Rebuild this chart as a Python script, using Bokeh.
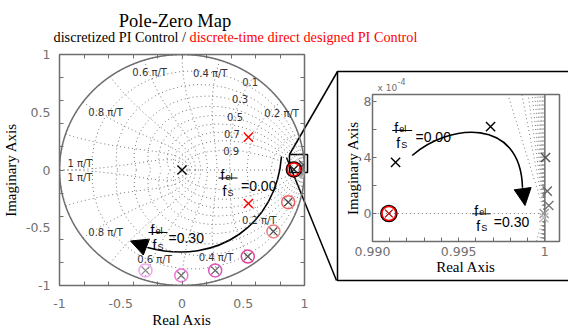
import numpy as np
from bokeh.plotting import figure
from bokeh.models import Range1d, LinearAxis, FixedTicker, Arrow, NormalHead, GridBox
from bokeh.embed import file_html
from bokeh.resources import INLINE
from bokeh.core.properties import value

W, H = 568, 335

# ------------------------------------------------------------------ data
# main pole-zero map
pole0_x = [0.0]
pole0_y = [0.0]
red_pole_x = [0.542, 0.542]
red_pole_y = [0.285, -0.290]
fel_fs = [0.00, 0.05, 0.10, 0.15, 0.20, 0.25, 0.30]
pz_x = [0.913, 0.867, 0.746, 0.537, 0.271, -0.006, -0.298]
pz_y = [0.005, -0.279, -0.532, -0.749, -0.870, -0.913, -0.870]
zero_colors = ["#ff0000", "#f06262", "#f08484", "#e2449e", "#dc58bc", "#f078d8", "#f0a6f0"]
pole_colors = ["#202020", "#404040", "#505050", "#505050", "#606060", "#707070", "#8a8a8a"]
near1_x = [0.990, 0.992, 0.994, 0.996, 0.998]
near1_y = [0.045, 0.020, 0.000, -0.020, -0.035]
near1_colors = ["#505050", "#666666", "#7a7a7a", "#909090", "#aaaaaa"]

main_ticks = [-1, -0.5, 0, 0.5, 1]
main_tick_labels = ["-1", "-0.5", "0", "0.5", "1"]
main_minor = [-1, -0.8, -0.6, -0.4, -0.2, 0, 0.2, 0.4, 0.6, 0.8, 1]

wn_labels = ["0.2 π/T", "0.4 π/T", "0.6 π/T", "0.8 π/T", "1 π/T",
             "1 π/T", "0.8 π/T", "0.6 π/T", "0.4 π/T", "0.2 π/T"]
wn_label_x = [0.813, 0.230, -0.264, -0.624, -0.833, -0.833, -0.624, -0.224, 0.278, 0.630]
wn_label_y = [0.492, 0.833, 0.842, 0.500, 0.059, -0.068, -0.539, -0.778, -0.760, -0.437]
zeta_labels = ["0.1", "0.3", "0.5", "0.7", "0.9"]
zeta_label_x = [0.556, 0.474, 0.433, 0.407, 0.401]
zeta_label_y = [0.760, 0.616, 0.463, 0.313, 0.163]

# inset (zoom near z = 1)
in_pole_x = [0.99134, 0.99685]
in_pole_y = [3.65e-4, 6.2e-4]
in_gray_x = [1.00004, 1.00014, 1.00023, 0.99996, 0.99994]
in_gray_y = [4.0e-4, 1.6e-4, 0.57e-4, 0.0, -0.3e-4]
in_gray_colors = ["#555555", "#666666", "#777777", "#999999", "#bbbbbb"]
in_zero_x = [0.99095]
in_zero_y = [0.0]
in_xticks = [0.990, 0.995, 1.0]
in_xtick_labels = ["0.990", "0.995", "1"]
in_xminor = [0.990, 0.991, 0.992, 0.993, 0.994, 0.995, 0.996, 0.997, 0.998, 0.999, 1.0]
in_yticks = [0.0, 4e-4, 8e-4]
in_ytick_labels = ["0", "4", "8"]
in_yminor = [-2e-4, 0.0, 2e-4, 4e-4, 6e-4, 8e-4]

GRAY = "#6e6e6e"
SERIF = "Liberation Serif"
SANS = "DejaVu Sans"

# ------------------------------------------------------------------ zgrid geometry
grid_xs, grid_ys = [], []
theta = np.linspace(0, np.pi, 21)
for zeta in np.arange(0.0, 0.95, 0.1):
    m = zeta / np.sqrt(1 - zeta * zeta)
    r = np.exp(-m * theta)
    grid_xs += [r * np.cos(theta), r * np.cos(theta)]
    grid_ys += [r * np.sin(theta), -r * np.sin(theta)]
phi = np.linspace(np.pi / 2, np.pi, 41)
for k in range(1, 11):
    wn = k * np.pi / 10
    zz = np.exp(wn * np.exp(1j * phi))
    grid_xs += [zz.real, zz.real]
    grid_ys += [zz.imag, -zz.imag]
grid_xs.append(np.array([0.0, 1.0]))
grid_ys.append(np.array([0.0, 0.0]))
circ_t = np.linspace(0, 2 * np.pi, 4001)
circ_x, circ_y = np.cos(circ_t), np.sin(circ_t)


def style_axis(ax, standoff, label_standoff, tick_px="12.5px"):
    ax.axis_line_color = None
    ax.major_tick_in = 0
    ax.major_tick_out = 0
    ax.minor_tick_in = 4
    ax.minor_tick_out = 0
    ax.minor_tick_line_color = GRAY
    ax.minor_tick_line_width = 1
    ax.major_label_text_font = SANS
    ax.major_label_text_font_size = tick_px
    ax.major_label_text_color = "#707070"
    ax.major_label_standoff = standoff
    ax.axis_label_text_font = SERIF
    ax.axis_label_text_font_size = "15px"
    ax.axis_label_text_font_style = "normal"
    ax.axis_label_text_color = "black"
    ax.axis_label_standoff = label_standoff


def draw_grid(p):
    p.multi_line(grid_xs, grid_ys, line_color="#777777", line_width=1, line_dash="1 3")
    p.line(circ_x, circ_y, line_color=GRAY, line_width=1.5)


# ------------------------------------------------------------------ decoration canvas (pixel units)
deco = figure(width=W, height=H, x_range=Range1d(0, W), y_range=Range1d(H, 0),
              toolbar_location=None, output_backend="svg",
              x_axis_location=None, y_axis_location=None, min_border=0)
deco.grid.visible = False
deco.outline_line_color = None

deco.text(x=[174.5], y=[20.5], text=["Pole-Zero Map"], text_align="center",
          text_baseline="alphabetic", text_font=value(SERIF), text_font_size="18.5px", text_color="black")
deco.text(x=[53], y=[36.5], text=["discretized PI Control / "], text_align="left",
          text_baseline="alphabetic", text_font=value(SERIF), text_font_size="14.25px", text_color="black")
deco.text(x=[189], y=[36.5], text=["discrete-time direct designed PI Control"], text_align="left",
          text_baseline="alphabetic", text_font=value(SERIF), text_font_size="14.25px", text_color="#ff0000")

# zoom rectangle, connectors and inset frame
deco.quad(left=[289], right=[307], top=[154], bottom=[172], fill_color=None, line_color="black", line_width=1.5)
deco.segment(x0=[289, 286], y0=[154, 157], x1=[337, 336], y1=[71, 280], line_color="black", line_width=1.5)
deco.quad(left=[337], right=[620], top=[71], bottom=[280], fill_color=None, line_color="black", line_width=1.5)

# curved arrows
deco.bezier(x0=[281], y0=[156], x1=[147], y1=[247], cx0=[276], cy0=[223], cx1=[218], cy1=[266],
            line_color="black", line_width=1.6)
deco.add_layout(Arrow(end=NormalHead(size=17, fill_color="black", line_color="black"),
                      x_start=147, y_start=247, x_end=130, y_end=240.5, line_color="black", line_width=1))
deco.bezier(x0=[411.7], y0=[155], x1=[522], y1=[187], cx0=[448], cy0=[123], cx1=[520], cy1=[116],
            line_color="black", line_width=1.6)
deco.add_layout(Arrow(end=NormalHead(size=17, fill_color="black", line_color="black"),
                      x_start=522, y_start=187, x_end=524.5, y_end=205, line_color="black", line_width=1))

# f_el / f_S fraction labels: (bar left, bar right, bar y, value text, value left, value baseline)
fracs = [(218, 237, 177.5, "=0.00", 240.5, 185),
         (148, 167, 232, "=0.30", 168, 237),
         (391.7, 411.7, 130, "=0.00", 415, 136.5),
         (471.7, 490, 213.3, "=0.30", 493.3, 221.5)]
for bl, br, by, txt, vx, vy in fracs:
    deco.segment(x0=[bl], y0=[by], x1=[br], y1=[by], line_color="black", line_width=1)
    deco.text(x=[bl + 2, bl + 4], y=[by - 3, by + 12.5], text=["f", "f"], text_baseline="alphabetic",
              text_font=value("Liberation Sans"), text_font_size="14px", text_color="black")
    deco.text(x=[bl + 7, bl + 9], y=[by - 1.5, by + 14.5], text=["el", "S"], text_baseline="alphabetic",
              text_font=value("Liberation Sans"), text_font_size="9px", text_color="black")
    deco.text(x=[vx], y=[vy], text=[txt], text_baseline="alphabetic",
              text_font=value("Liberation Sans"), text_font_size="14px", text_color="black")

# exponent of the inset y axis
deco.text(x=[377], y=[87], text=["x 10"], text_baseline="alphabetic",
          text_font=value(SANS), text_font_size="9px", text_color="#707070")
deco.text(x=[397], y=[81], text=["-4"], text_baseline="alphabetic",
          text_font=value(SANS), text_font_size="8px", text_color="#707070")

# ------------------------------------------------------------------ main pole-zero map
main = figure(width=W, height=H, x_range=Range1d(-1, 1), y_range=Range1d(-1, 1),
              toolbar_location=None, output_backend="svg",
              min_border_left=58, min_border_right=264, min_border_top=54, min_border_bottom=50,
              x_axis_label="Real Axis", y_axis_label="Imaginary Axis")
main.background_fill_alpha = 0
main.border_fill_alpha = 0
main.grid.visible = False
main.outline_line_color = GRAY
main.outline_line_width = 1.5
for ax in (main.xaxis[0], main.yaxis[0]):
    ax.ticker = FixedTicker(ticks=main_ticks, minor_ticks=main_minor)
    ax.major_label_overrides = dict(zip(main_ticks, main_tick_labels))
style_axis(main.xaxis[0], 13, 1)
style_axis(main.yaxis[0], 9, 4)
for loc in ("above", "right"):
    ax = LinearAxis(ticker=FixedTicker(ticks=[], minor_ticks=main_minor))
    style_axis(ax, 0, 0)
    main.add_layout(ax, loc)

draw_grid(main)
main.text(x=wn_label_x, y=wn_label_y, text=wn_labels, text_align="center", text_baseline="middle",
          text_font=value(SANS), text_font_size="10px", text_color="#333333")
main.text(x=zeta_label_x, y=zeta_label_y, text=zeta_labels, text_align="center", text_baseline="middle",
          text_font=value(SANS), text_font_size="10px", text_color="#333333")

main.scatter(pole0_x, pole0_y, marker="x", size=13, line_color="black", line_width=1.4)
main.scatter(red_pole_x, red_pole_y, marker="x", size=13, line_color="#ff0000", line_width=1.4)
main.scatter(near1_x, near1_y, marker="x", size=12, line_color=near1_colors, line_width=1.3)
main.scatter(pz_x[:1], pz_y[:1], marker="circle", size=15, fill_color=None, line_color="black", line_width=1.5)
main.scatter(pz_x, pz_y, marker="circle", size=13, fill_color=None, line_color=zero_colors, line_width=1.5)
main.scatter(pz_x, pz_y, marker="x", size=11, line_color=pole_colors, line_width=1.3)

# ------------------------------------------------------------------ inset
ins = figure(width=W, height=H, x_range=Range1d(0.990, 1.00085), y_range=Range1d(-2e-4, 8.5e-4),
             toolbar_location=None, output_backend="svg",
             min_border_left=372, min_border_right=9, min_border_top=94, min_border_bottom=94,
             x_axis_label="Real Axis", y_axis_label="Imaginary Axis")
ins.background_fill_alpha = 0
ins.border_fill_alpha = 0
ins.grid.visible = False
ins.outline_line_color = GRAY
ins.outline_line_width = 1.5
ins.xaxis[0].ticker = FixedTicker(ticks=in_xticks, minor_ticks=in_xminor)
ins.xaxis[0].major_label_overrides = dict(zip(in_xticks, in_xtick_labels))
ins.yaxis[0].ticker = FixedTicker(ticks=in_yticks, minor_ticks=in_yminor)
ins.yaxis[0].major_label_overrides = dict(zip(in_yticks, in_ytick_labels))
style_axis(ins.xaxis[0], 5, 0)
style_axis(ins.yaxis[0], 1, 0)

draw_grid(ins)
ins.scatter(in_pole_x, in_pole_y, marker="x", size=13, line_color="black", line_width=1.4)
ins.scatter(in_gray_x, in_gray_y, marker="x", size=13, line_color=in_gray_colors, line_width=1.4)
ins.scatter(in_zero_x, in_zero_y, marker="circle", size=16, fill_color=None, line_color="black", line_width=1.6)
ins.scatter(in_zero_x, in_zero_y, marker="circle", size=14, fill_color=None, line_color="#ff0000", line_width=1.6)
ins.scatter(in_zero_x, in_zero_y, marker="x", size=11, line_color="#b00000", line_width=1.3)

# ------------------------------------------------------------------ overlay the three canvases in one grid cell
for f in (deco, main, ins):
    f.frame_align = False
layout = GridBox(children=[(deco, 0, 0), (main, 0, 0), (ins, 0, 0)], width=W, height=H)
open("out.html", "w").write(file_html(layout, INLINE))
